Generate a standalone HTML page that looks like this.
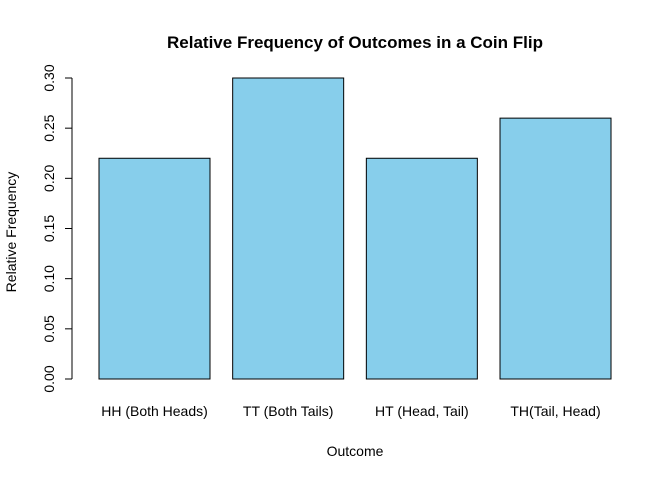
<!DOCTYPE html>
<html><head><meta charset="utf-8"><style>
body{margin:0;background:#fff}
svg{display:block;font-family:"Liberation Sans",Arial,sans-serif}
</style></head><body>
<svg id="chart" width="672" height="480">
<text x="355" y="48" text-anchor="middle" font-size="17" font-weight="bold">Relative Frequency of Outcomes in a Coin Flip</text>
<text x="355" y="456" text-anchor="middle" font-size="14">Outcome</text>
<text transform="translate(16,232) rotate(-90)" text-anchor="middle" font-size="14">Relative Frequency</text>
<g id="yaxis"></g>
<g id="bars"></g>
<g id="xlabels"></g>
</svg>
<script>
const categories=["HH (Both Heads)","TT (Both Tails)","HT (Head, Tail)","TH(Tail, Head)"];
const values=[0.22,0.30,0.22,0.26];
const yTicks=[0,0.05,0.10,0.15,0.20,0.25,0.30];
const yTickLabels=["0.00","0.05","0.10","0.15","0.20","0.25","0.30"];
const NS="http://www.w3.org/2000/svg";
const y0=379,yTop=78,vMax=0.30;
function yScale(v){return y0-(v/vMax)*(y0-yTop);}
const barW=111,step=133.67,xStart=99;
function xScale(i){return xStart+i*step;}
function mk(t,a){const e=document.createElementNS(NS,t);for(const k in a)e.setAttribute(k,a[k]);return e;}
const ya=document.getElementById('yaxis');
const al=mk('line',{x1:72,x2:72,y1:yScale(yTicks[0]),y2:yScale(yTicks[yTicks.length-1]),stroke:'#000'});


ya.appendChild(al);
yTicks.forEach((t,i)=>{
  const y=yScale(t);
  const tk=mk('line',{x1:65,x2:72,y1:y,y2:y,stroke:'#000'});
  
  
  ya.appendChild(tk);
  const tx=mk('text',{transform:`translate(54,${y}) rotate(-90)`,'text-anchor':'middle','font-size':14});
  tx.textContent=yTickLabels[i];
  
  
  ya.appendChild(tx);
});
const bg=document.getElementById('bars'),xl=document.getElementById('xlabels');
values.forEach((v,i)=>{
  const x=xScale(i),y=yScale(v);
  const r=mk('rect',{x:x,y:y,width:barW,height:y0-y,fill:'#87CEEB',stroke:'#000','stroke-width':1});
  
  
  bg.appendChild(r);
  const t=mk('text',{x:x+barW/2,y:416,'text-anchor':'middle','font-size':14});
  t.textContent=categories[i];
  
  
  xl.appendChild(t);
});
</script>
</body></html>
